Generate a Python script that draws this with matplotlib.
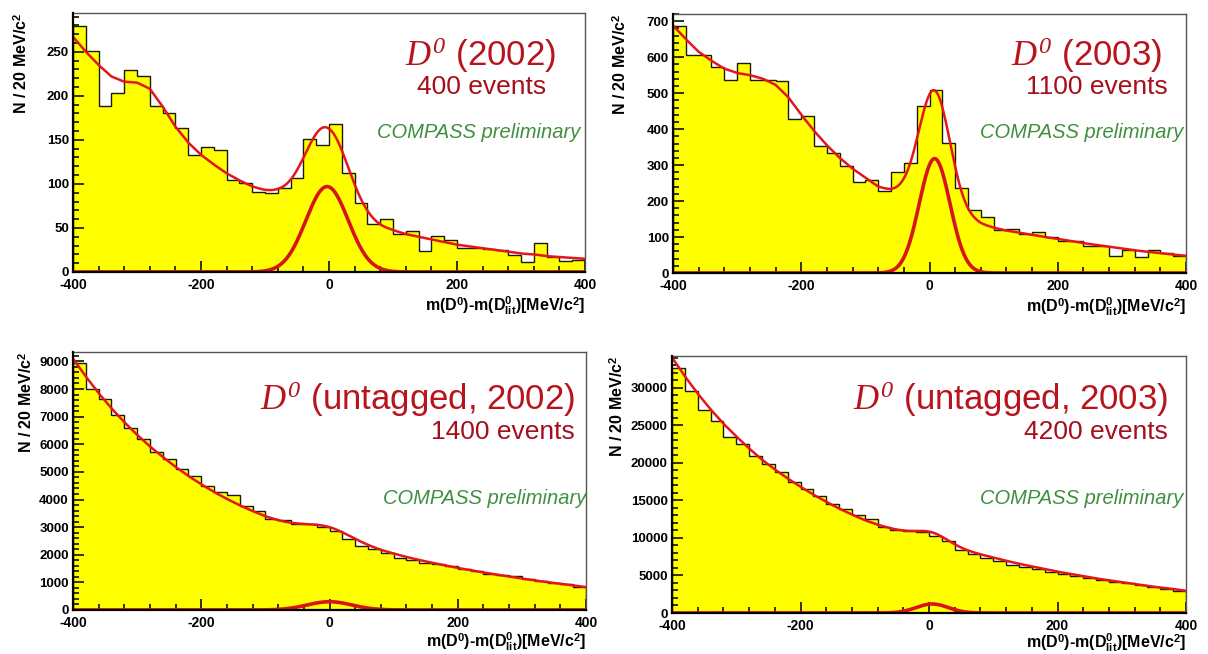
import numpy as np
import matplotlib.pyplot as plt
from matplotlib.ticker import MultipleLocator

plt.rcParams['font.family'] = ['Liberation Sans', 'DejaVu Sans']
plt.rcParams['mathtext.fontset'] = 'custom'
plt.rcParams['mathtext.rm'] = 'Liberation Sans'
plt.rcParams['mathtext.it'] = 'Liberation Serif:italic'
plt.rcParams['mathtext.sf'] = 'Liberation Serif:italic'
plt.rcParams['mathtext.bf'] = 'Liberation Sans:bold'
plt.rcParams['axes.unicode_minus'] = False

# bins: 20 MeV from -400 to 400
edges = np.arange(-400, 401, 20)

# histogram contents
counts_2002 = [279, 251, 189, 203, 229, 222, 189, 180, 164, 133,
               142, 139, 104, 101, 91, 90, 95, 107, 151, 144,
               168, 112, 78, 55, 60, 43, 47, 24, 41, 36,
               27, 27, 26, 25, 19, 11, 33, 17, 12, 14]
counts_2003 = [688, 607, 607, 574, 537, 584, 537, 537, 534, 429,
               436, 354, 334, 298, 254, 259, 229, 280, 305, 464,
               510, 362, 235, 175, 157, 120, 122, 109, 114, 101,
               90, 90, 76, 74, 48, 63, 44, 65, 55, 48]
counts_u2002 = [8930, 8008, 7650, 7050, 6573, 6190, 5713, 5474, 5103, 4840,
                4482, 4279, 4160, 3765, 3585, 3311, 3251, 3131, 3107, 2988,
                2868, 2570, 2330, 2211, 2056, 1876, 1793, 1709, 1673, 1590,
                1470, 1398, 1315, 1255, 1231, 1135, 1052, 992, 932, 837]
counts_u2003 = [32544, 29560, 27060, 25610, 23420, 22460, 20920, 19820, 18730, 17410,
                16450, 15530, 14560, 13820, 13030, 12460, 11490, 11050, 10920, 10830,
                10310, 9600, 8420, 7890, 7320, 6970, 6450, 6140, 5790, 5440,
                5130, 4910, 4650, 4390, 4170, 3950, 3680, 3460, 3250, 2980]

# fitted background read at the bin edges
bg_2002 = [267, 250, 235, 222, 216, 215, 208, 188, 165, 147,
           133, 122, 112, 104, 97, 92, 88, 83, 78, 72,
           66, 62, 58, 54, 50, 47, 43, 40, 37, 34,
           31, 29, 27, 25, 23, 21, 20, 18, 17, 16, 15]
bg_2003 = [688, 650, 615, 590, 568, 556, 550, 540, 523, 488,
           440, 395, 355, 320, 290, 265, 240, 228, 220, 210,
           196, 180, 165, 150, 136, 126, 118, 112, 106, 100,
           95, 89, 83, 78, 73, 68, 63, 59, 55, 51, 48]
bg_u2002 = [9100, 8450, 7850, 7300, 6800, 6340, 5920, 5540, 5180, 4850,
            4550, 4270, 4020, 3790, 3580, 3390, 3230, 3090, 2960, 2830,
            2700, 2560, 2420, 2290, 2160, 2040, 1920, 1810, 1710, 1615,
            1525, 1440, 1360, 1285, 1210, 1140, 1070, 1010, 950, 890, 830]
bg_u2003 = [34000, 31500, 29200, 27100, 25200, 23500, 21900, 20400, 19100, 17900,
            16800, 15750, 14800, 13900, 13100, 12350, 11750, 11250, 10750, 10200,
            9650, 9150, 8700, 8250, 7800, 7400, 6950, 6550, 6200, 5850,
            5500, 5200, 4900, 4600, 4350, 4100, 3850, 3600, 3400, 3200, 2950]

# gaussian signal: amplitude, mean, sigma
sig_2002 = (97, -3, 33)
sig_2003 = (318, 8, 24)
sig_u2002 = (300, 0, 35)
sig_u2003 = (1200, 5, 25)

titles = ['(2002)', '(2003)', '(untagged, 2002)', '(untagged, 2003)']
events = ['400 events', '1100 events', '1400 events', '4200 events']

W, H = 1208, 654
fig = plt.figure(figsize=(W / 100, H / 100), dpi=100)

# axes boxes in pixels: left, right, top, bottom
boxes = [(73, 585, 13, 272), (673, 1186, 14, 273),
         (73, 586, 352, 610), (672, 1186, 356, 613)]
ymaxes = [294, 720, 9340, 34200]
majors = [50, 100, 1000, 5000]
ylab_off = [43, 44, 38, 46]
xlab_off = [22, 22, 20, 18]
all_counts = [counts_2002, counts_2003, counts_u2002, counts_u2003]
all_bg = [bg_2002, bg_2003, bg_u2002, bg_u2003]
all_sig = [sig_2002, sig_2003, sig_u2002, sig_u2003]

# text positions in pixels (right edge, centre y)
title_pos = [(556, 55), (1162, 55), (575, 399), (1168, 399)]
event_pos = [(546, 87), (1168, 87), (575, 432), (1168, 432)]
compass_pos = [(580, 133), (1183, 133), (586, 499), (1183, 499)]

xf = np.linspace(-400, 400, 801)

for i in range(4):
    l, r, t, b = boxes[i]
    ax = fig.add_axes([l / W, 1 - b / H, (r - l) / W, (b - t) / H])
    c = np.array(all_counts[i])
    ax.stairs(c, edges, fill=True, color='#ffff00', zorder=1)
    ax.stairs(c, edges, color='#1a1a00', lw=1.0, zorder=2)

    amp, mu, s = all_sig[i]
    gaus = amp * np.exp(-(xf - mu) ** 2 / (2 * s ** 2))
    bg = np.interp(xf, edges, all_bg[i])
    ax.plot(xf, bg + gaus, color='#e3161b', lw=1.8, zorder=3)
    ax.plot(xf, gaus, color='#d8141a', lw=2.6, zorder=3)

    ax.set_xlim(-400, 400)
    ax.set_ylim(0, ymaxes[i])
    ax.xaxis.set_major_locator(MultipleLocator(200))
    ax.xaxis.set_minor_locator(MultipleLocator(40))
    ax.yaxis.set_major_locator(MultipleLocator(majors[i]))
    ax.yaxis.set_minor_locator(MultipleLocator(majors[i] / 5))
    ax.tick_params(which='both', direction='in', top=False, right=False,
                   width=1.3, color='#222200')
    ax.tick_params(which='major', length=8)
    ax.tick_params(which='minor', length=4)
    ax.tick_params(axis='x', which='major', pad=4, labelsize=10)
    ax.tick_params(axis='y', which='major', pad=3, labelsize=9.5)
    for lab in ax.get_xticklabels() + ax.get_yticklabels():
        lab.set_fontweight('bold')
    for sp in ['left', 'bottom']:
        ax.spines[sp].set_linewidth(1.6)
        ax.spines[sp].set_zorder(4)
    for sp in ['top', 'right']:
        ax.spines[sp].set_linewidth(1.0)
        ax.spines[sp].set_color('#555555')

    ax.set_ylabel(r'N / 20 MeV/c$^{\mathbf{2}}$', loc='top', fontsize=11.5,
                  fontweight='bold')
    ax.yaxis.set_label_coords(-ylab_off[i] / (r - l), 1.0)
    ax.set_xlabel(r'm(D$^{\mathbf{0}}$)-m(D$^{\mathbf{0}}_{\mathbf{lit}}$)[MeV/c$^{\mathbf{2}}$]',
                  loc='right', fontsize=11.5, fontweight='bold')
    ax.xaxis.set_label_coords(1.0, -xlab_off[i] / (b - t))

    # labels
    x, y = title_pos[i]
    fig.text(x / W, 1 - y / H, r'$D^{\mathsf{0}}$ ' + titles[i], color='#b8141e',
             fontsize=25, ha='right', va='center')
    x, y = event_pos[i]
    fig.text(x / W, 1 - y / H, events[i], color='#a50f1c', fontsize=19,
             ha='right', va='center')
    x, y = compass_pos[i]
    fig.text(x / W, 1 - y / H, 'COMPASS preliminary', color='#3f8f3f',
             fontsize=14.5, style='italic', ha='right', va='center')

fig.savefig('out.png', dpi=100, facecolor='white')
